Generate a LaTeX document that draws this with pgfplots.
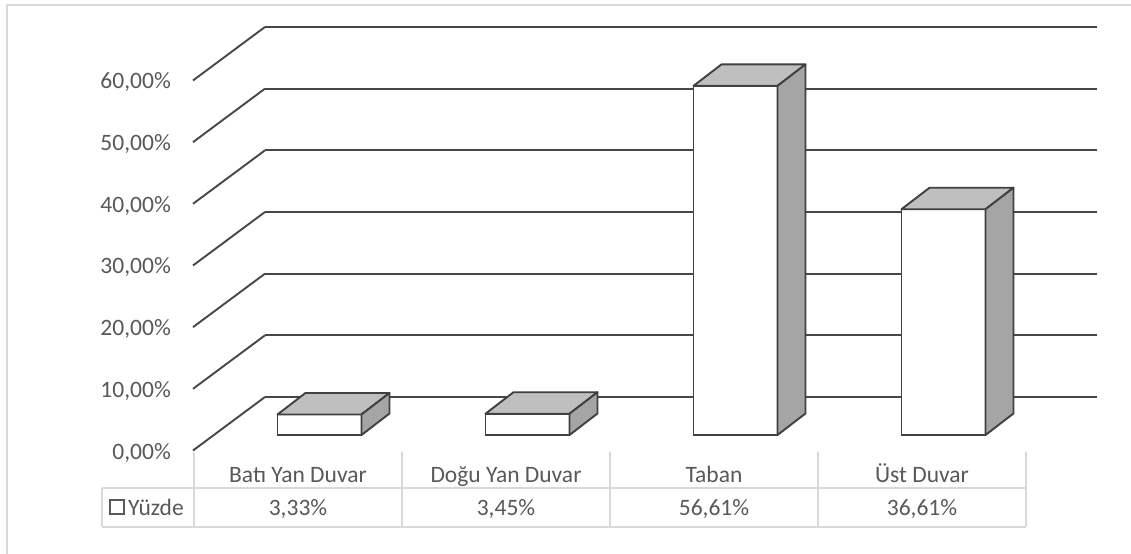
\documentclass[border=0pt]{standalone}
\usepackage{pgfplots}
\pgfplotsset{compat=1.18}
\usepackage{fontspec}
\setmainfont{Carlito}
\definecolor{txt}{HTML}{595959}
\definecolor{gridc}{HTML}{474747}
\definecolor{edge}{HTML}{404040}
\definecolor{topc}{HTML}{BFBFBF}
\definecolor{sidec}{HTML}{A5A5A5}
\definecolor{tabc}{HTML}{D9D9D9}
\newcommand\yu{6.167}
\pgfdeclareplotmark{box3d}{%
  \pgfmathsetmacro\hh{\ry*\yu}%
  \pgfsetlinewidth{1.9bp}\pgfsetroundjoin\pgfsetstrokecolor{edge}%
  \pgfsetfillcolor{topc}%
  \pgfpathmoveto{\pgfpoint{-42bp}{0bp}}%
  \pgfpathlineto{\pgfpoint{42bp}{0bp}}%
  \pgfpathlineto{\pgfpoint{70bp}{21.5bp}}%
  \pgfpathlineto{\pgfpoint{-14bp}{21.5bp}}%
  \pgfpathclose\pgfusepathqfillstroke
  \pgfsetfillcolor{sidec}%
  \pgfpathmoveto{\pgfpoint{42bp}{0bp}}%
  \pgfpathlineto{\pgfpoint{70bp}{21.5bp}}%
  \pgfpathlineto{\pgfpoint{70bp}{21.5bp-\hh*1bp}}%
  \pgfpathlineto{\pgfpoint{42bp}{-\hh*1bp}}%
  \pgfpathclose\pgfusepathqfillstroke
}
\begin{document}
\begin{tikzpicture}[font=\fontsize{23.5bp}{28bp}\selectfont]
\useasboundingbox (0,0) rectangle (1131bp,554bp);
\fill[white] (0,0) rectangle (1131bp,554bp);
% outer border
\draw[tabc, line width=2bp] (7bp,-5bp) -- (7bp,549bp) -- (1140bp,549bp);
% data table lines
\draw[tabc, line width=1.6bp] (102bp,66bp) -- (1026bp,66bp);
\draw[tabc, line width=1.6bp] (102bp,27bp) -- (1026bp,27bp);
\draw[tabc, line width=1.6bp] (102bp,66bp) -- (102bp,27bp);
\foreach \xx in {194,402,610,818,1026}{\draw[tabc, line width=1.6bp] (\xx bp,102bp) -- (\xx bp,27bp);}
\draw[txt, line width=1.3bp] (110bp,40bp) rectangle (124bp,54bp);
\node[anchor=base west, inner sep=0pt, text=txt] at (128bp,39bp) {Yüzde};
\begin{axis}[
  at={(265bp,157bp)}, anchor=south west,
  x=208bp, y=6.167bp,
  xmin=-0.5, xmax=3.5, ymin=0, ymax=60,
  clip=false,
  axis line style={draw=none},
  tick style={draw=none},
  ytick={0,10,...,60},
  ymajorgrids, major grid style={gridc, line width=1.9bp},
  xtick={0,1,2,3},
  xticklabels={Batı Yan Duvar,Doğu Yan Duvar,Taban,Üst Duvar},
  yticklabel={\pgfmathprintnumber[fixed,fixed zerofill,precision=2,use comma]{\tick}\%},
  /pgf/number format/assume math mode=true,
  tick label style={font=\fontsize{23.5bp}{28bp}\selectfont, text=txt, inner sep=0pt},
  yticklabel style={anchor=base east, xshift=-94bp, yshift=-62bp},
  xticklabel style={anchor=base, xshift=-71bp, yshift=-85bp},
]
\pgfplotsinvokeforeach{0,10,20,30,40,50,60}{\draw[gridc, line width=1.9bp] (axis cs:-0.5,#1) -- ++(-72bp,-53.5bp);}
\addplot[ybar, bar width=84bp, bar shift=0pt, fill=white, draw=edge, line width=1.9bp, xshift=-49.5bp, yshift=-38bp]
  coordinates {(0,3.33) (1,3.45) (2,56.61) (3,36.61)};
\addplot[scatter, only marks, mark=box3d, visualization depends on={rawy \as \ry}, xshift=-49.5bp, yshift=-38bp]
  coordinates {(0,3.33) (1,3.45) (2,56.61) (3,36.61)};
\node[anchor=base, inner sep=0pt, text=txt, xshift=-71bp, yshift=-118bp] at (axis cs:0,0) {3,33\%};
\node[anchor=base, inner sep=0pt, text=txt, xshift=-71bp, yshift=-118bp] at (axis cs:1,0) {3,45\%};
\node[anchor=base, inner sep=0pt, text=txt, xshift=-71bp, yshift=-118bp] at (axis cs:2,0) {56,61\%};
\node[anchor=base, inner sep=0pt, text=txt, xshift=-71bp, yshift=-118bp] at (axis cs:3,0) {36,61\%};
\end{axis}
\end{tikzpicture}
\end{document}
